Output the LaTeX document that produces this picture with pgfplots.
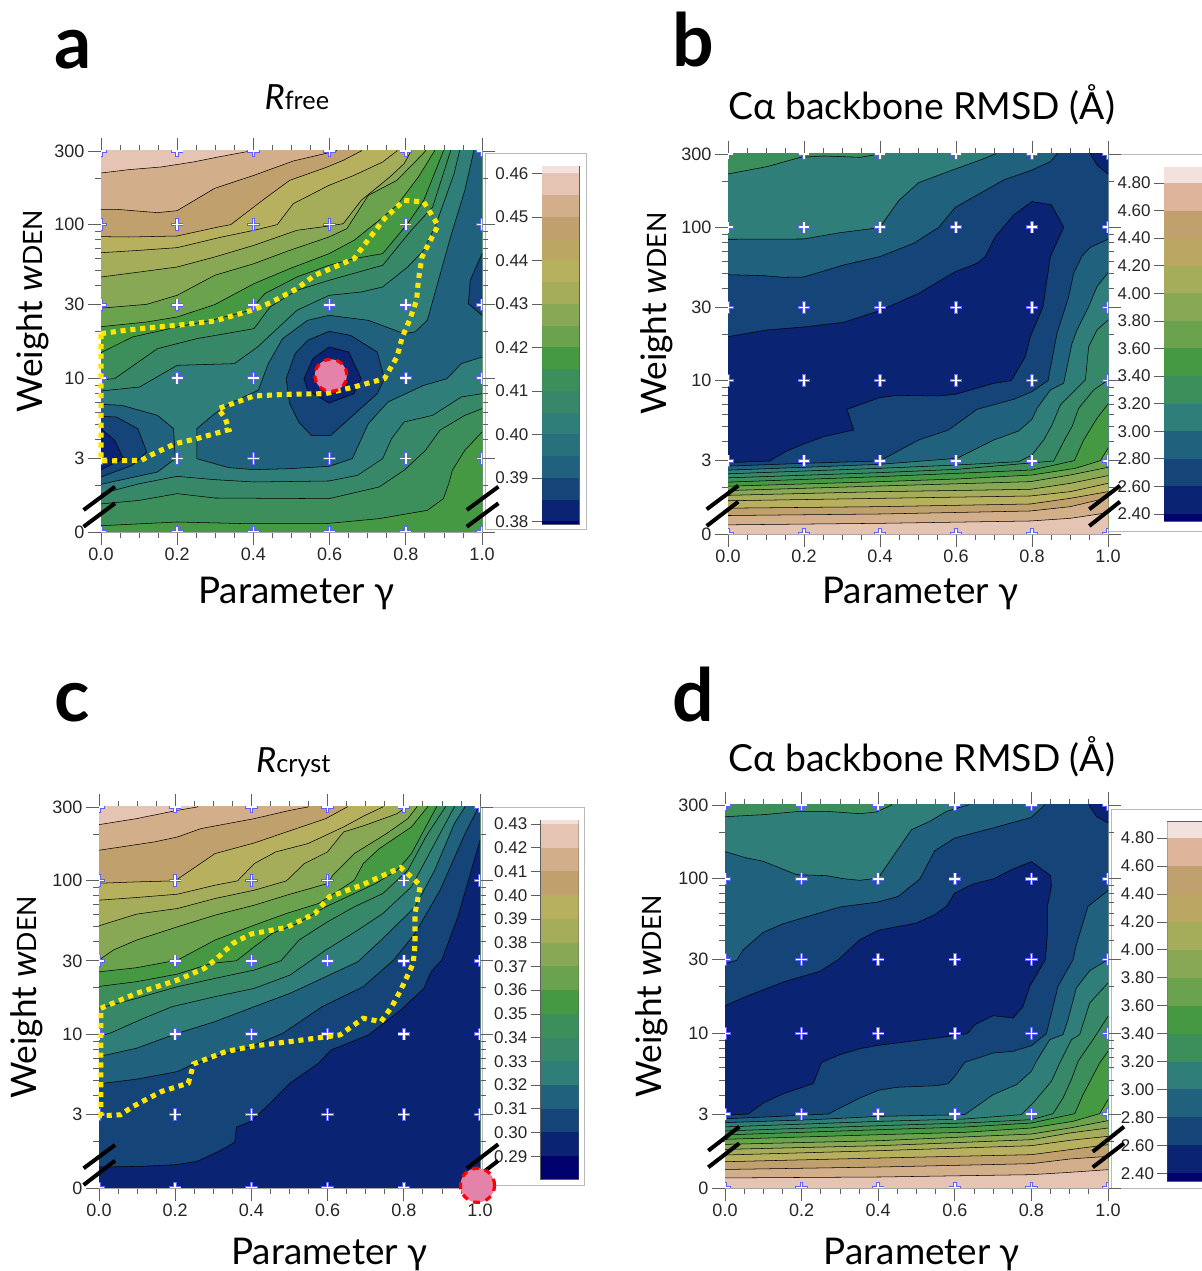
\documentclass[border=0pt]{standalone}
\usepackage{fontspec}
\usepackage{pgfplots}
\usepackage{pgfplotstable}
\pgfplotsset{compat=1.18}
\setmainfont{Liberation Sans}
\newfontfamily\gill{Lato}
\definecolor{wh}{RGB}{243,225,222}
\definecolor{pk}{RGB}{230,196,180}
\definecolor{pt}{RGB}{222,180,155}
\definecolor{tn}{RGB}{210,174,138}
\definecolor{br}{RGB}{192,160,108}
\definecolor{kb}{RGB}{187,167,98}
\definecolor{kh}{RGB}{183,176,95}
\definecolor{ol}{RGB}{165,172,90}
\definecolor{og}{RGB}{136,168,85}
\definecolor{lg}{RGB}{107,162,78}
\definecolor{gr}{RGB}{70,153,67}
\definecolor{gt}{RGB}{60,142,90}
\definecolor{gb}{RGB}{55,135,105}
\definecolor{te}{RGB}{47,126,122}
\definecolor{d2}{RGB}{40,112,124}
\definecolor{dt}{RGB}{32,98,125}
\definecolor{db}{RGB}{20,68,120}
\definecolor{nb}{RGB}{10,35,115}
\definecolor{nv}{RGB}{0,0,110}
\definecolor{yel}{RGB}{255,230,0}
\definecolor{pnk}{RGB}{228,130,170}
\definecolor{tg}{RGB}{95,95,95}
\definecolor{bluecross}{RGB}{95,95,255}
\pgfplotstableread{
g w
0 0
0.2 0
0.4 0
0.6 0
0.8 0
1 0
0 0.4771
0.2 0.4771
0.4 0.4771
0.6 0.4771
0.8 0.4771
1 0.4771
0 1
0.2 1
0.4 1
0.6 1
0.8 1
1 1
0 1.4771
0.2 1.4771
0.4 1.4771
0.6 1.4771
0.8 1.4771
1 1.4771
0 2
0.2 2
0.4 2
0.6 2
0.8 2
1 2
0 2.4771
0.2 2.4771
0.4 2.4771
0.6 2.4771
0.8 2.4771
1 2.4771
}\pts
\def\xo{0}\def\xs{1}\def\yo{0}\def\ys{1}
\pgfplotsset{
 zmap/.style={x filter/.code={\pgfmathparse{(##1-\xo)/\xs}},y filter/.code={\pgfmathparse{(\yo-##1)/\ys*2.4771}}},
 geom/.style={scale only axis,xmin=0,xmax=1,ymin=0,ymax=2.4771},
 panel/.style={geom,clip marker paths=true,
  xtick={0,0.2,0.4,0.6,0.8,1},xticklabels={0.0,0.2,0.4,0.6,0.8,1.0},
  minor xtick={0.05,0.1,0.15,0.25,0.3,0.35,0.45,0.5,0.55,0.65,0.7,0.75,0.85,0.9,0.95},
  ytick={0,0.4771,1,1.4771,2,2.4771},yticklabels={0,3,10,30,100,300},
  minor ytick={0.301,0.602,0.699,0.778,0.845,0.903,0.954,1.301,1.602,1.699,1.778,1.845,1.903,1.954,2.301},
  tick align=outside,major tick length=10pt,minor tick length=4.5pt,
  major tick style={color=tg,line width=0.7pt},minor tick style={color=tg,line width=0.6pt},
  axis line style={color=gray!70,line width=0.5pt},
  tick label style={font=\fontsize{13.5}{14}\selectfont,text=black!85},
  xticklabel style={yshift=1.5pt},
  yticklabel style={xshift=1pt},
  xlabel={\labx},ylabel={\laby},
 },
 over/.style={geom,hide axis,clip=false},
 cbar/.style={scale only axis,xmin=0,xmax=1,xtick=\empty,ytick pos=left,tick align=outside,major tick length=7.5pt,
  major tick style={color=tg,line width=0.5pt},axis line style={color=tg,line width=0.4pt},
  tick label style={font=\fontsize{12.75}{13}\selectfont,text=black!85},yticklabel style={xshift=1pt}},
}
\newcommand{\labx}{{\gill\fontsize{27.6}{30}\selectfont Parameter γ}}
\newcommand{\laby}{{\gill\fontsize{26.4}{30}\selectfont Weight \textit{w}{\fontsize{20}{22}\selectfont DEN}}}
\newcommand{\ttl}{{\gill\fontsize{28}{30}\selectfont Cα backbone RMSD (Å)}}
\newcommand{\cl}[2]{\addplot[zmap,fill=#1,draw=black,line width=0.4pt] coordinates {#2} --cycle;}
\newcommand{\reg}[2]{\addplot[zmap,fill=#1,draw=black,line width=0.4pt] coordinates {#2 (1300,1300)(100,1300)} --cycle;}
\newcommand{\crosses}{%
 \addplot[only marks,mark=+,mark size=4.6pt,mark options={draw=bluecross,line width=2.8pt}] table[x=g,y=w] {\pts};
 \addplot[only marks,mark=+,mark size=4pt,mark options={draw=white,line width=1.3pt}] table[x=g,y=w] {\pts};}
\newcommand{\yellow}[1]{\addplot[zmap,draw=yel,line width=3.8pt,dash pattern=on 3.8pt off 3.6pt] coordinates {#1};}
\newcommand{\band}[3]{\addplot[fill=#1,draw=none] coordinates {(0,#2)(1,#2)(1,#3)(0,#3)} --cycle;}
\begin{document}
\begin{tikzpicture}
\path[use as bounding box] (0,0) rectangle (901.5pt,953.25pt);
\begin{scope}[x=0.75pt,y=-0.75pt,yshift=953.25pt]
\draw[gray!55,line width=0.6pt] (485,153) rectangle (586,529);
\draw[gray!55,line width=0.6pt] (1108,154) rectangle (1212,531);
\draw[gray!55,line width=0.6pt] (482,807) rectangle (584,1185);
\draw[gray!55,line width=0.6pt] (1111,809) rectangle (1212,1188);
\end{scope}

% ---------- a
\def\xo{172}\def\xs{1066}\def\yo{1205}\def\ys{1143}
\begin{axis}[panel,width=285.75pt,height=285.75pt,at={(75.75pt,554.25pt)},anchor=south west,
 title={{\gill\fontsize{26}{30}\selectfont\textit{R}{\fontsize{19}{22}\selectfont free}}},
 title style={at={(axis description cs:0.514,1)},anchor=base,yshift=25pt},
 xlabel style={at={(axis description cs:0.513,0)},anchor=base,yshift=-54pt},
 ylabel style={at={(axis description cs:0,0.58)},anchor=base,yshift=44pt}]
\cl{pk}{(100,0)(1300,0)(1300,1300)(100,1300)}
\reg{tn}{(100,128)(172,128)(250,118)(340,110)(430,95)(500,80)(590,62)(600,0)(1300,0)}
\reg{br}{(100,238)(215,237)(330,247)(385,241)(490,174)(600,135)(710,92)(830,62)(850,0)(1300,0)}
\reg{kh}{(100,318)(250,320)(385,317)(500,290)(535,283)(630,205)(700,150)(800,112)(850,90)(900,62)(920,0)(1300,0)}
\reg{ol}{(100,372)(280,360)(385,352)(510,320)(600,300)(665,283)(710,220)(810,165)(880,135)(960,95)(1000,62)(1020,0)(1300,0)}
\reg{og}{(100,450)(280,425)(385,410)(490,380)(600,345)(720,300)(810,287)(850,280)(900,210)(980,140)(1020,100)(1040,62)(1050,0)(1300,0)}
\reg{lg}{(100,540)(300,522)(385,495)(490,435)(600,400)(700,360)(810,320)(860,295)(920,195)(1000,150)(1055,90)(1080,62)(1090,0)(1300,0)}
\reg{gr}{(100,597)(300,575)(385,560)(490,523)(600,460)(700,415)(810,370)(880,330)(950,270)(1000,225)(1060,140)(1105,62)(1115,0)(1300,0)}
\reg{gt}{(100,667)(172,667)(260,620)(385,590)(480,570)(590,540)(630,490)(720,440)(810,405)(880,385)(960,370)(1030,280)(1075,210)(1130,62)(1140,0)(1300,0)}
\reg{gb}{(100,755)(210,745)(330,655)(440,625)(600,595)(645,530)(720,480)(810,450)(960,405)(1040,300)(1100,230)(1150,62)(1160,0)(1300,0)}
\reg{te}{(100,790)(280,770)(385,705)(545,700)(610,650)(650,610)(720,540)(810,495)(900,485)(960,470)(1030,410)(1075,360)(1110,280)(1160,130)(1175,62)(1180,0)(1300,0)}
\cl{dt}{(1215,62)(1215,0)(1300,0)(1300,680)(1238,680)(1180,700)(1140,745)(1075,765)(975,815)(920,880)(875,985)(810,1008)(700,1015)(600,1018)(530,1012)(440,985)(440,895)(490,850)(540,815)(612,780)(640,700)(680,625)(750,570)(810,555)(920,570)(1020,610)(1050,605)(1085,570)(1150,320)(1190,180)}
\cl{dt}{(100,822)(172,822)(230,825)(330,855)(375,895)(380,985)(330,1025)(172,1062)(100,1062)}
\cl{db}{(100,855)(215,860)(275,895)(300,965)(260,1005)(172,1040)(100,1040)}
\cl{nb}{(100,895)(172,895)(210,930)(235,985)(172,1018)(100,1018)}
\cl{db}{(1300,370)(1238,370)(1205,450)(1200,520)(1238,555)(1300,555)}
\cl{db}{(810,603)(870,615)(945,665)(965,745)(945,790)(815,915)(760,915)(725,875)(700,820)(690,745)(715,670)(750,630)}
\cl{nb}{(810,650)(865,665)(900,745)(880,790)(810,818)(750,780)(740,745)(765,685)}
\reg{gb}{(100,1090)(172,1090)(280,1060)(385,1038)(490,1048)(600,1055)(810,1052)(890,1035)(960,985)(985,925)(1020,875)(1100,855)(1180,800)(1238,790)(1300,780)}
\reg{gt}{(100,1128)(280,1110)(385,1090)(490,1103)(810,1105)(950,1070)(1020,1020)(1080,960)(1120,900)(1190,855)(1238,835)(1300,810)}
\reg{gr}{(100,1190)(385,1175)(580,1180)(800,1180)(950,1165)(1085,1140)(1130,1105)(1145,1060)(1155,1020)(1190,960)(1238,905)(1300,850)}
\crosses
\end{axis}
\begin{axis}[cbar,width=28.125pt,height=268.5pt,at={(406.35pt,560.25pt)},anchor=south west,ymin=0.3794,ymax=0.4617,
 ytick={0.38,0.39,0.40,0.41,0.42,0.43,0.44,0.45,0.46},yticklabels={0.38,0.39,0.40,0.41,0.42,0.43,0.44,0.45,0.46}]
\band{nv}{0.3794}{0.38}\band{nb}{0.38}{0.385}\band{db}{0.385}{0.39}\band{dt}{0.39}{0.395}\band{d2}{0.395}{0.40}\band{te}{0.40}{0.405}\band{gb}{0.405}{0.41}\band{gt}{0.41}{0.415}\band{gr}{0.415}{0.42}\band{lg}{0.42}{0.425}\band{og}{0.425}{0.43}\band{ol}{0.43}{0.435}\band{kh}{0.435}{0.44}\band{kb}{0.44}{0.445}\band{br}{0.445}{0.45}\band{tn}{0.45}{0.455}\band{pk}{0.455}{0.46}\band{wh}{0.46}{0.4617}
\end{axis}

% ---------- b
\def\xo{143}\def\xs{1140}\def\yo{1212}\def\ys{1140}
\begin{axis}[panel,width=285pt,height=285pt,at={(546pt,552.75pt)},anchor=south west,
 title={\ttl},title style={at={(axis description cs:0.51,1)},anchor=base,yshift=20pt},
 xlabel style={at={(axis description cs:0.506,0)},anchor=base,yshift=-52.5pt},
 ylabel style={at={(axis description cs:0,0.58)},anchor=base,yshift=46pt}]
\cl{gt}{(100,0)(1300,0)(1300,1300)(100,1300)}
\reg{te}{(100,132)(143,132)(260,110)(360,82)(430,78)(540,82)(598,72)(620,0)(1300,0)}
\reg{dt}{(100,328)(370,327)(480,308)(598,293)(655,212)(715,158)(825,117)(900,90)(945,72)(960,0)(1300,0)}
\reg{db}{(100,433)(250,437)(310,442)(370,441)(490,405)(598,380)(700,340)(775,292)(825,232)(970,150)(1055,120)(1110,95)(1130,72)(1140,0)(1300,0)}
\cl{nb}{(100,620)(143,620)(260,600)(370,591)(490,577)(598,542)(715,490)(825,425)(890,400)(915,380)(945,320)(1000,255)(1055,215)(1113,224)(1150,292)(1110,380)(1088,530)(1050,620)(1035,680)(993,752)(940,760)(825,793)(770,798)(650,796)(598,803)(500,838)(520,900)(430,920)(370,942)(315,965)(268,993)(143,998)(100,998)}
\cl{nb}{(1230,0)(1230,72)(1250,105)(1283,132)(1300,140)(1300,0)}
\reg{dt}{(100,1010)(370,1000)(598,993)(715,930)(805,900)(890,838)(1000,808)(1055,785)(1103,752)(1130,610)(1165,500)(1180,430)(1205,378)(1230,352)(1283,328)(1300,320)}
\reg{te}{(100,1022)(370,1012)(598,1003)(830,985)(940,930)(1015,903)(1055,868)(1070,835)(1110,780)(1150,760)(1175,640)(1190,600)(1225,530)(1250,470)(1283,428)(1300,410)}
\reg{gb}{(100,1033)(598,1015)(830,1005)(1015,995)(1055,975)(1090,930)(1115,885)(1140,825)(1215,750)(1225,650)(1250,600)(1283,570)(1300,555)}
\reg{gt}{(100,1045)(598,1028)(830,1018)(1120,993)(1155,925)(1175,890)(1195,835)(1240,780)(1283,750)(1300,740)}
\reg{gr}{(100,1058)(598,1040)(830,1030)(1055,1020)(1182,992)(1210,930)(1250,865)(1283,822)(1300,810)}
\reg{lg}{(100,1070)(598,1055)(830,1047)(1055,1035)(1185,1015)(1260,992)(1283,955)(1300,930)}
\reg{og}{(100,1083)(600,1068)(1050,1055)(1170,1035)(1283,1012)(1300,1008)}
\reg{ol}{(100,1097)(600,1085)(1050,1078)(1170,1060)(1283,1037)(1300,1033)}
\reg{kh}{(100,1113)(600,1105)(1050,1098)(1170,1085)(1283,1060)(1300,1056)}
\reg{br}{(100,1135)(600,1130)(1050,1122)(1170,1105)(1283,1085)(1300,1082)}
\reg{tn}{(100,1157)(600,1152)(1050,1143)(1170,1130)(1283,1103)(1300,1100)}
\reg{pk}{(100,1185)(600,1180)(1050,1173)(1170,1165)(1283,1148)(1300,1146)}
\crosses
\end{axis}
\begin{axis}[cbar,width=30pt,height=265.5pt,at={(873pt,562.5pt)},anchor=south west,ymin=2.349,ymax=4.916,
 ytick={2.4,2.6,2.8,3.0,3.2,3.4,3.6,3.8,4.0,4.2,4.4,4.6,4.8},yticklabels={2.40,2.60,2.80,3.00,3.20,3.40,3.60,3.80,4.00,4.20,4.40,4.60,4.80}]
\band{nv}{2.349}{2.4}\band{nb}{2.4}{2.6}\band{db}{2.6}{2.8}\band{dt}{2.8}{3.0}\band{te}{3.0}{3.2}\band{gt}{3.2}{3.4}\band{gr}{3.4}{3.6}\band{lg}{3.6}{3.8}\band{og}{3.8}{4.0}\band{ol}{4.0}{4.2}\band{kb}{4.2}{4.4}\band{br}{4.4}{4.6}\band{pt}{4.6}{4.8}\band{wh}{4.8}{4.916}
\end{axis}

% ---------- c
\def\xo{165}\def\xs{1067}\def\yo{1195}\def\ys{1145}
\begin{axis}[panel,width=285.75pt,height=285.75pt,at={(74.25pt,62.25pt)},anchor=south west,
 title={{\gill\fontsize{26}{30}\selectfont\textit{R}{\fontsize{19}{22}\selectfont cryst}}},
 title style={at={(axis description cs:0.51,1)},anchor=base,yshift=20pt},
 xlabel style={at={(axis description cs:0.605,0)},anchor=base,yshift=-57pt},
 ylabel style={at={(axis description cs:0,0.5)},anchor=base,yshift=47pt}]
\cl{pk}{(100,0)(1300,0)(1300,1300)(100,1300)}
\reg{tn}{(100,103)(165,103)(270,85)(385,60)(440,50)(450,0)(1300,0)}
\reg{br}{(100,180)(165,180)(320,155)(385,140)(450,115)(600,85)(700,60)(750,50)(760,0)(1300,0)}
\reg{kh}{(100,282)(270,275)(378,272)(490,190)(600,158)(690,125)(800,85)(860,50)(870,0)(1300,0)}
\reg{ol}{(100,335)(270,322)(385,312)(490,285)(553,272)(600,220)(660,185)(750,160)(800,135)(850,110)(910,75)(960,50)(970,0)(1300,0)}
\reg{og}{(100,407)(165,407)(270,372)(385,355)(490,325)(600,300)(690,272)(740,220)(805,185)(850,125)(910,105)(1000,70)(1025,50)(1035,0)(1300,0)}
\reg{lg}{(100,510)(165,510)(205,480)(270,450)(385,410)(490,375)(600,345)(700,312)(805,280)(820,255)(880,190)(970,130)(1030,85)(1055,50)(1065,0)(1300,0)}
\reg{gr}{(100,553)(270,533)(385,510)(490,450)(600,405)(690,370)(780,340)(880,270)(905,220)(950,175)(1040,110)(1085,50)(1095,0)(1300,0)}
\reg{gt}{(100,598)(270,575)(385,552)(480,520)(550,512)(600,470)(650,430)(720,400)(800,350)(880,310)(940,280)(1000,240)(1040,190)(1110,50)(1120,0)(1300,0)}
\reg{gb}{(100,655)(165,655)(270,625)(385,590)(490,565)(600,540)(675,512)(725,450)(805,395)(880,350)(960,310)(1030,240)(1080,140)(1135,50)(1145,0)(1300,0)}
\reg{te}{(100,740)(165,740)(200,728)(290,685)(370,650)(490,620)(600,595)(700,555)(800,480)(890,420)(960,370)(1040,290)(1100,170)(1160,50)(1170,0)(1300,0)}
\reg{dt}{(100,800)(165,800)(270,775)(385,730)(490,695)(600,650)(700,610)(800,560)(890,515)(960,445)(1050,350)(1105,240)(1160,100)(1190,50)(1200,0)(1300,0)}
\reg{db}{(100,882)(165,882)(270,868)(385,845)(425,825)(490,800)(590,770)(680,730)(790,650)(905,590)(990,510)(1050,430)(1120,300)(1190,130)(1228,50)(1240,0)(1300,0)}
\reg{nb}{(100,1133)(280,1130)(380,1125)(440,1115)(500,1085)(545,1058)(550,1012)(590,995)(640,945)(700,880)(780,820)(815,780)(920,735)(1010,660)(1075,595)(1095,545)(1125,510)(1170,380)(1232,150)(1300,-50)}
\crosses
\end{axis}
\begin{axis}[cbar,width=28.4pt,height=269.25pt,at={(405.5pt,69pt)},anchor=south west,ymin=0.2804,ymax=0.4317,
 ytick={0.29,0.30,0.31,0.32,0.33,0.34,0.35,0.36,0.37,0.38,0.39,0.40,0.41,0.42,0.43},yticklabels={0.29,0.30,0.31,0.32,0.33,0.34,0.35,0.36,0.37,0.38,0.39,0.40,0.41,0.42,0.43}]
\band{nv}{0.2804}{0.29}\band{nb}{0.29}{0.30}\band{db}{0.30}{0.31}\band{dt}{0.31}{0.32}\band{te}{0.32}{0.33}\band{gb}{0.33}{0.34}\band{gt}{0.34}{0.35}\band{gr}{0.35}{0.36}\band{lg}{0.36}{0.37}\band{og}{0.37}{0.38}\band{ol}{0.38}{0.39}\band{kh}{0.39}{0.40}\band{br}{0.40}{0.41}\band{tn}{0.41}{0.42}\band{pk}{0.42}{0.43}\band{wh}{0.43}{0.4317}
\end{axis}

% ---------- d
\def\xo{135}\def\xs{1150}\def\yo{1195}\def\ys{1149}
\begin{axis}[panel,width=287.25pt,height=287.25pt,at={(543.75pt,62.25pt)},anchor=south west,
 title={\ttl},title style={at={(axis description cs:0.514,1)},anchor=base,yshift=19pt},
 xlabel style={at={(axis description cs:0.514,0)},anchor=base,yshift=-57pt},
 ylabel style={at={(axis description cs:0,0.5)},anchor=base,yshift=48pt}]
\cl{gt}{(100,0)(1300,0)(1300,1300)(100,1300)}
\reg{te}{(100,83)(250,75)(360,65)(440,65)(540,72)(590,67)(635,46)(650,0)(1300,0)}
\reg{dt}{(100,186)(135,186)(200,205)(250,215)(350,255)(440,258)(490,267)(540,272)(595,265)(650,185)(695,120)(750,95)(800,65)(865,46)(875,0)(1300,0)}
\reg{db}{(100,522)(135,522)(170,512)(190,480)(250,428)(310,402)(480,352)(595,337)(655,320)(720,268)(765,183)(825,145)(940,115)(1055,83)(1095,46)(1105,0)(1300,0)}
\cl{nb}{(100,648)(135,648)(200,620)(310,577)(420,545)(475,510)(540,450)(595,422)(710,400)(765,375)(800,350)(825,310)(880,283)(940,268)(1000,238)(1055,216)(1113,258)(1115,290)(1103,350)(1103,430)(1097,510)(1050,590)(1030,650)(1000,685)(940,678)(885,705)(863,732)(770,745)(595,767)(540,777)(480,795)(425,818)(400,882)(310,912)(250,940)(205,973)(135,977)(100,977)}
\cl{nb}{(1228,0)(1228,46)(1250,80)(1285,100)(1300,105)(1300,0)}
\reg{dt}{(100,989)(300,980)(445,973)(540,925)(595,902)(650,893)(770,888)(805,882)(825,860)(855,818)(940,790)(1000,785)(1055,768)(1100,732)(1135,590)(1180,510)(1190,465)(1225,350)(1285,303)(1300,295)}
\reg{te}{(100,1000)(400,990)(600,980)(855,975)(940,915)(1010,885)(1055,845)(1070,815)(1110,750)(1150,735)(1165,690)(1190,595)(1230,543)(1285,510)(1300,500)}
\reg{gb}{(100,1013)(600,995)(855,988)(1025,975)(1060,940)(1115,875)(1140,820)(1175,750)(1200,735)(1230,640)(1285,580)(1300,570)}
\reg{gt}{(100,1025)(600,1008)(855,1000)(1055,990)(1120,972)(1150,925)(1175,870)(1195,815)(1240,750)(1285,680)(1300,665)}
\reg{gr}{(100,1037)(600,1020)(855,1012)(1055,1000)(1185,972)(1210,915)(1260,820)(1285,785)(1300,765)}
\reg{lg}{(100,1050)(600,1035)(855,1028)(1055,1015)(1180,995)(1260,972)(1285,930)(1300,905)}
\reg{og}{(100,1065)(600,1053)(1055,1033)(1170,1015)(1285,993)(1300,990)}
\reg{ol}{(100,1080)(600,1068)(1055,1050)(1170,1030)(1285,1015)(1300,1012)}
\reg{kh}{(100,1097)(600,1083)(1055,1068)(1170,1052)(1285,1040)(1300,1038)}
\reg{br}{(100,1117)(600,1105)(1055,1095)(1170,1080)(1285,1065)(1300,1063)}
\reg{tn}{(100,1140)(600,1132)(1055,1122)(1170,1108)(1285,1100)(1300,1098)}
\reg{pk}{(100,1165)(600,1162)(1055,1155)(1170,1148)(1285,1140)(1300,1139)}
\crosses
\end{axis}
\begin{axis}[cbar,width=28pt,height=269.5pt,at={(875.5pt,67.5pt)},anchor=south west,ymin=2.345,ymax=4.917,
 ytick={2.4,2.6,2.8,3.0,3.2,3.4,3.6,3.8,4.0,4.2,4.4,4.6,4.8},yticklabels={2.40,2.60,2.80,3.00,3.20,3.40,3.60,3.80,4.00,4.20,4.40,4.60,4.80}]
\band{nv}{2.345}{2.4}\band{nb}{2.4}{2.6}\band{db}{2.6}{2.8}\band{dt}{2.8}{3.0}\band{te}{3.0}{3.2}\band{gt}{3.2}{3.4}\band{gr}{3.4}{3.6}\band{lg}{3.6}{3.8}\band{og}{3.8}{4.0}\band{ol}{4.0}{4.2}\band{kb}{4.2}{4.4}\band{br}{4.4}{4.6}\band{pt}{4.6}{4.8}\band{wh}{4.8}{4.917}
\end{axis}

% ---------- annotations
\begin{scope}[x=0.75pt,y=-0.75pt,yshift=953.25pt]
\foreach \a/\b/\c/\d in {83.6/510/115/486.7,83.6/526.7/115/503.3,466.8/510/498.4/486.7,466.8/526.7/498.4/503.3,
 706.7/509.3/738.3/485.7,706.7/526/738.3/501.7,1089.3/509.3/1120/485.7,1089.3/526/1120/501.7,
 83.6/1168.3/115/1145,83.6/1185/115/1160.7,466.8/1168.3/498.2/1144.3,466.8/1185/498.2/1160.7,
 708.3/1150.7/739.3/1126.7,708.3/1167.3/739.3/1143.3,1092.7/1151.7/1124/1126.7,1092.7/1167.3/1124/1143.3}
 {\draw[black,line width=3pt] (\a,\b) -- (\c,\d);}
\node[anchor=base west,inner sep=0pt,font=\gill\bfseries\fontsize{55}{60}\selectfont] at (54,69) {a};
\node[anchor=base west,inner sep=0pt,font=\gill\bfseries\fontsize{55}{60}\selectfont] at (672,67) {b};
\node[anchor=base west,inner sep=0pt,font=\gill\bfseries\fontsize{55}{60}\selectfont] at (54,722) {c};
\node[anchor=base west,inner sep=0pt,font=\gill\bfseries\fontsize{55}{60}\selectfont] at (672,722) {d};
\end{scope}

% ---------- overlays
\def\xo{172}\def\xs{1066}\def\yo{1205}\def\ys{1143}
\begin{axis}[over,width=285.75pt,height=285.75pt,at={(75.75pt,554.25pt)},anchor=south west]
\addplot[zmap,only marks,mark=*,mark size=12pt,mark options={fill=pnk,draw=red,line width=2.4pt,dash pattern=on 5pt off 4.5pt}] coordinates {(815,735)};
\yellow{(172,610)(240,600)(310,592)(385,585)(490,572)(600,538)(650,515)(720,475)(770,435)(810,417)(880,385)(915,335)(965,265)(1020,210)(1075,215)(1115,285)(1070,380)(1060,450)(1055,510)(1035,570)(1015,620)(1000,680)(965,745)(880,770)(800,790)(690,792)(600,797)(500,835)(520,865)(530,898)(440,925)(380,940)(310,975)(285,990)(172,992)(172,610)}
\end{axis}
\def\xo{165}\def\xs{1067}\def\yo{1195}\def\ys{1145}
\begin{axis}[over,width=285.75pt,height=285.75pt,at={(74.25pt,62.25pt)},anchor=south west]
\addplot[zmap,only marks,mark=*,mark size=12.8pt,mark options={fill=pnk,draw=red,line width=2.4pt,dash pattern=on 5pt off 4.5pt}] coordinates {(1225,1187)};
\yellow{(170,655)(270,610)(385,570)(460,535)(490,510)(540,460)(590,432)(690,412)(770,370)(810,320)(900,285)(1010,232)(1065,285)(1050,370)(1050,460)(1045,520)(1010,600)(985,650)(955,695)(905,685)(840,735)(700,755)(600,768)(520,785)(430,822)(415,880)(340,905)(260,950)(225,975)(170,978)(170,655)}
\end{axis}
\end{tikzpicture}
\end{document}
